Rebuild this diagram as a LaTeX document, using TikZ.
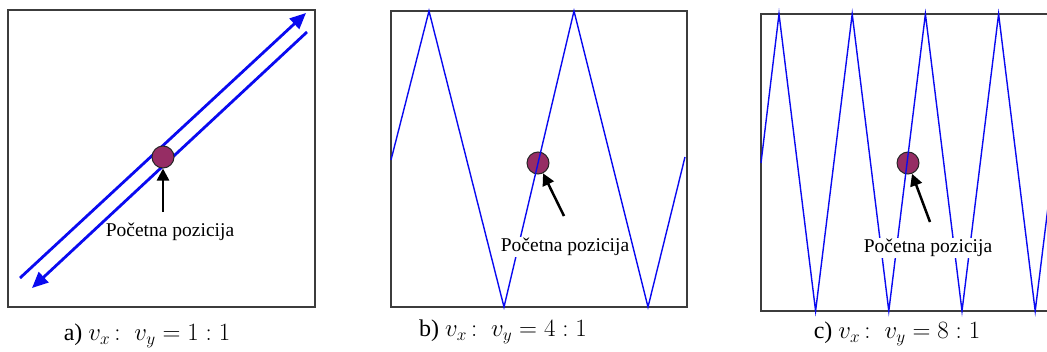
\documentclass[tikz,border=0pt]{standalone}
\usepackage{fontspec}
\setmainfont{Liberation Serif}
\usepackage{xcolor}
\definecolor{pathblue}{RGB}{10,10,240}
\definecolor{ballred}{RGB}{150,45,100}
\definecolor{framegray}{RGB}{60,60,60}
\usetikzlibrary{arrows.meta, positioning}

\begin{document}
\begin{tikzpicture}[x=1pt, y=-1pt,
  frame/.style={draw=framegray, line width=1.4pt},
  ball/.style={circle, draw=black!85, fill=ballred, line width=1pt, minimum size=22pt, inner sep=0pt},
  zigzag/.style={pathblue, line width=1.4pt, line join=miter},
  diag/.style={pathblue, line width=2.8pt, -{Triangle[length=16pt, width=14pt]}},
  startlabel/.style={fill=white, inner sep=1pt, font=\fontsize{19.5}{21}\selectfont},
  pointer/.style={line width=2.5pt, -{Triangle[length=12pt, width=12pt]}},
  caption/.style={font=\fontsize{24}{27}\selectfont}
]
  \clip (0,0) rectangle (1047,351);

  % --- Panel a: 1 : 1 ---
  \draw[frame] (8,10) rectangle (315,307);
  \coordinate (upA) at (20,278);
  \coordinate (upA end) at (306,13);
  \coordinate (downA) at (307,32);
  \coordinate (downA end) at (32,288);
  \draw[diag] (upA) -- (upA end);
  \draw[diag] (downA) -- (downA end);
  \node[ball] (ballA) at (163,157) {};
  \node[startlabel] (lblA) at (170,232) {Početna pozicija};
  \coordinate (tailA) at (163,212);
  \draw[pointer] (tailA) -- (ballA);
  \node[caption] (capA) at (147,336) {a) $v_x\,{:}\;\;v_y = 1\;{:}\;1$};

  % --- Panel b: 4 : 1 ---
  \draw[frame] (391,11) rectangle (687,307);
  \node[ball] (ballB) at (538,163) {};
  \draw[zigzag] (391,160) -- (429,11) -- (504,307) -- (574,11) -- (648,307) -- (685,157);
  \node[startlabel] (lblB) at (565,247) {Početna pozicija};
  \coordinate (tailB) at (564,216);
  \draw[pointer] (tailB) -- (ballB);
  \node[caption] (capB) at (503,332) {b) $v_x\,{:}\;\;v_y = 4\;{:}\;1$};

  % --- Panel c: 8 : 1 ---
  \draw[frame] (761,14) rectangle (1070,311);
  \node[ball] (ballC) at (908,163) {};
  \draw[zigzag] (761,163) -- (779,14) -- (815.6,311) -- (852.2,14) -- (888.8,311) --
    (925.4,14) -- (962,311) -- (998.6,14) -- (1035.2,311) -- (1071.8,14);
  \node[startlabel] (lblC) at (928,248) {Početna pozicija};
  \coordinate (tailC) at (930,222);
  \draw[pointer] (tailC) -- (ballC);
  \node[caption] (capC) at (897,334) {c) $v_x\,{:}\;\;v_y = 8\;{:}\;1$};
\end{tikzpicture}
\end{document}
